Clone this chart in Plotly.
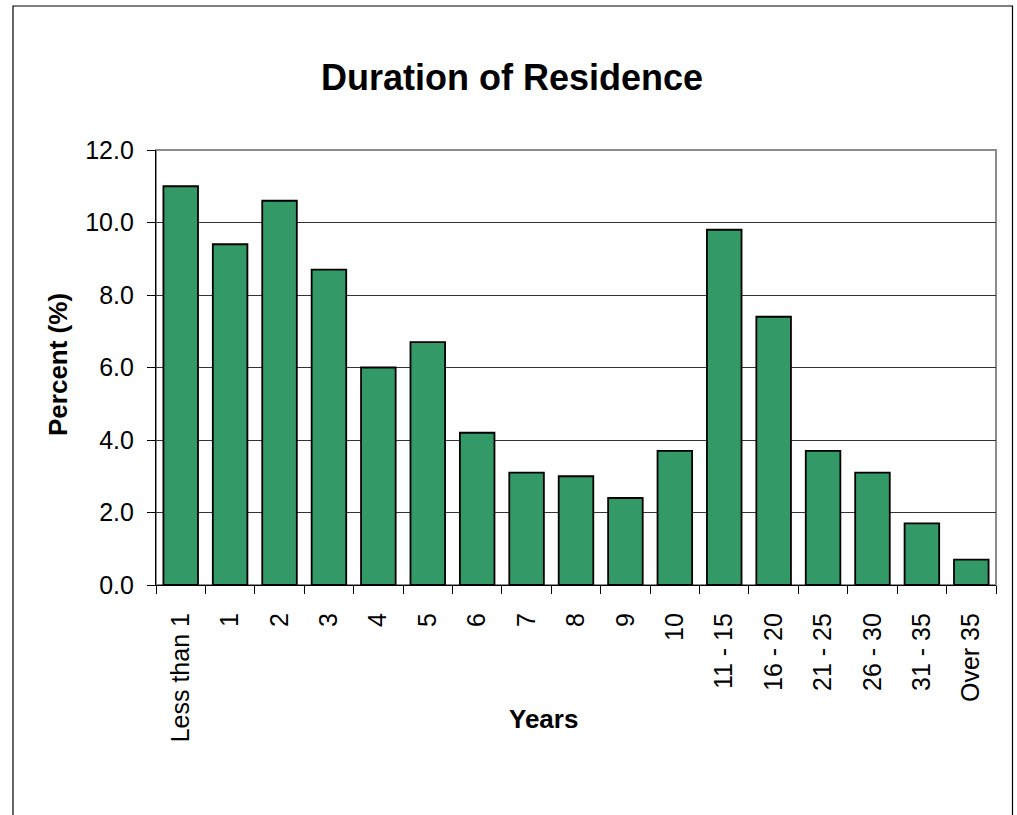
import plotly.graph_objects as go

categories = ["Less than 1", "1", "2", "3", "4", "5", "6", "7", "8", "9", "10",
              "11 - 15", "16 - 20", "21 - 25", "26 - 30", "31 - 35", "Over 35"]
percent = [11.0, 9.4, 10.6, 8.7, 6.0, 6.7, 4.2, 3.1, 3.0, 2.4, 3.7,
           9.8, 7.4, 3.7, 3.1, 1.7, 0.7]
y_ticks = [0, 2, 4, 6, 8, 10, 12]
y_tick_labels = ["0.0", "2.0", "4.0", "6.0", "8.0", "10.0", "12.0"]

W, H = 1017, 815
# plot area in page pixels
PX0, PX1, PY0, PY1 = 156, 996, 150, 585
L, R = PX0, W - PX1
T, B = PY0, H - PY1
pw, ph = PX1 - PX0, PY1 - PY0


def px_x(p):
    return (p - PX0) / pw


def px_y(p):
    return (PY1 - p) / ph


TICKFONT = "Liberation Sans"
BOLDFONT = "Liberation Sans"

fig = go.Figure()
fig.add_trace(go.Bar(
    x=categories, y=percent,
    marker=dict(color="#339966", line=dict(color="black", width=1.8)),
))

fig.update_layout(
    width=W, height=H,
    margin=dict(l=L, r=R, t=T, b=B, pad=0),
    paper_bgcolor="white", plot_bgcolor="white",
    bargap=0.3, showlegend=False,
    font=dict(family=TICKFONT, color="black", size=25),
    xaxis=dict(
        type="category", tickangle=-90, tickson="boundaries",
        ticks="outside", ticklen=8, tickcolor="black", tickwidth=1,
        showline=True, linecolor="black", linewidth=1.2,
        showgrid=False, tickfont=dict(family=TICKFONT, size=25),
        ticklabelstandoff=17,
    ),
    yaxis=dict(
        range=[0, 12], tickvals=y_ticks, ticktext=y_tick_labels,
        ticks="outside", ticklen=8, tickcolor="black", tickwidth=1,
        showline=True, linecolor="black", linewidth=1.2,
        showgrid=True, gridcolor="#333333", gridwidth=1,
        zeroline=False, tickfont=dict(family=TICKFONT, size=25),
        ticklabelstandoff=8,
    ),
    shapes=[
        dict(type="rect", xref="paper", yref="paper", x0=0, x1=1, y0=0, y1=1,
             line=dict(color="#8c8c8c", width=2), layer="below"),
        dict(type="rect", xref="paper", yref="paper",
             x0=px_x(13), x1=px_x(1012.5), y0=px_y(840), y1=px_y(6),
             line=dict(color="black", width=1.2)),
    ],
    annotations=[
        dict(text="<b>Duration of Residence</b>", xref="paper", yref="paper",
             x=px_x(512), y=px_y(78), showarrow=False,
             xanchor="center", yanchor="middle",
             font=dict(family=BOLDFONT, size=36, color="black")),
        dict(text="<b>Years</b>", xref="paper", yref="paper",
             x=px_x(543), y=px_y(719), showarrow=False,
             xanchor="center", yanchor="middle",
             font=dict(family=BOLDFONT, size=26, color="black")),
        dict(text="<b>Percent (%)</b>", xref="paper", yref="paper",
             x=px_x(58), y=px_y(365), showarrow=False, textangle=-90,
             xanchor="center", yanchor="middle",
             font=dict(family=BOLDFONT, size=26, color="black")),
    ],
)

fig.write_html(
    "out.html",
    config={"displayModeBar": False},
    post_script="document.body.style.margin='0';document.body.style.overflow='hidden';",
)
